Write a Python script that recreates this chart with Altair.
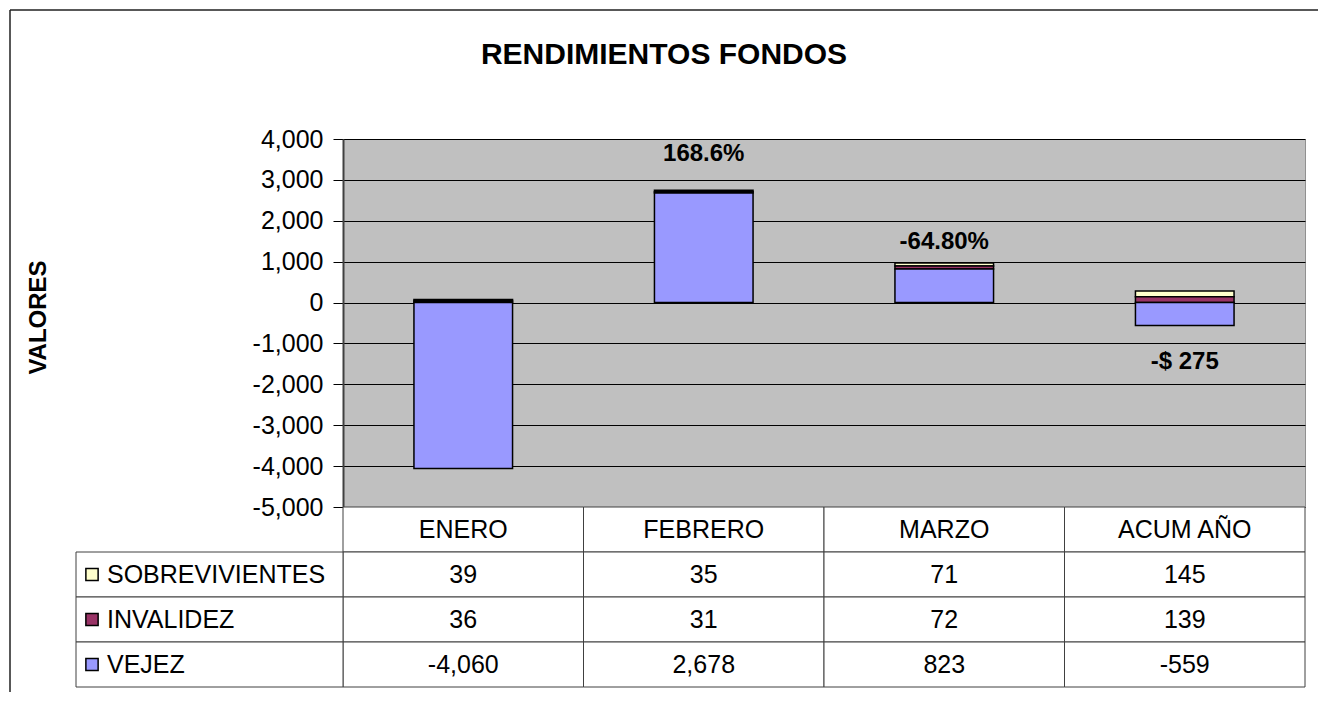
import altair as alt
import pandas as pd

# ---------------- data ----------------
CATEGORIES = ["ENERO", "FEBRERO", "MARZO", "ACUM AÑO"]
SERIES = ["SOBREVIVIENTES", "INVALIDEZ", "VEJEZ"]
SOBREVIVIENTES = [39, 35, 71, 145]
INVALIDEZ = [36, 31, 72, 139]
VEJEZ = [-4060, 2678, 823, -559]
COLORS = ["#FFFFCC", "#993366", "#9999FF"]
STACK_ORDER = [2, 1, 0]  # VEJEZ nearest zero
Y_TICKS = [-5000, -4000, -3000, -2000, -1000, 0, 1000, 2000, 3000, 4000]
LABEL_CATS = ["FEBRERO", "MARZO", "ACUM AÑO"]
LABEL_TEXT = ["168.6%", "-64.80%", "-$ 275"]
LABEL_AT = [3630, 1480, -1450]
HEADER_ROW = "CATEGORIA"

FONT = "Liberation Sans"

values_by_series = {"SOBREVIVIENTES": SOBREVIVIENTES, "INVALIDEZ": INVALIDEZ, "VEJEZ": VEJEZ}

rows = []
for s, o in zip(SERIES, STACK_ORDER):
    for c, v in zip(CATEGORIES, values_by_series[s]):
        rows.append({"cat": c, "serie": s, "valor": v, "orden": o})
bars_df = pd.DataFrame(rows)

labels_df = pd.DataFrame({"cat": LABEL_CATS, "texto": LABEL_TEXT, "pos": LABEL_AT})

table_rows = []
for c in CATEGORIES:
    table_rows.append({"cat": c, "fila": HEADER_ROW, "texto": c})
    for s in SERIES:
        v = values_by_series[s][CATEGORIES.index(c)]
        table_rows.append({"cat": c, "fila": s, "texto": f"{v:,}"})
table_df = pd.DataFrame(table_rows)
legend_df = pd.DataFrame({"fila": SERIES})
frame_df = pd.DataFrame({"marco": [0]})

color_scale = alt.Scale(domain=SERIES, range=COLORS)
x_scale = alt.Scale(domain=CATEGORIES, paddingInner=0, paddingOuter=0)

W = 962

# ---------------- top chart ----------------
y_axis = alt.Axis(
    values=Y_TICKS,
    labelExpr="datum.value < 0 ? '-' + format(-datum.value, ',') : format(datum.value, ',')",
    labelFontSize=25, labelColor="black", labelPadding=10, labelFont=FONT,
    tickSize=10, tickColor="black", tickWidth=1,
    domainColor="#404040", domainWidth=2,
    grid=True, gridColor="black", gridWidth=1, gridOpacity=1,
    title="VALORES", titleFontSize=24, titleFontWeight="bold", titleFont=FONT,
    titleColor="black", titleX=-305, titleY=178, titleBaseline="middle", titleAngle=-90,
)

bars = alt.Chart(bars_df).mark_bar(
    stroke="black", strokeWidth=1.5, width=alt.RelativeBandSize(0.41)
).encode(
    x=alt.X("cat:N", scale=x_scale, sort=CATEGORIES, axis=None),
    y=alt.Y("valor:Q", scale=alt.Scale(domain=[-5000, 4000], nice=False, zero=False),
            axis=y_axis, stack="zero"),
    color=alt.Color("serie:N", scale=color_scale, legend=None),
    order=alt.Order("orden:Q", sort="ascending"),
)

labels = alt.Chart(labels_df).mark_text(
    fontSize=24, fontWeight="bold", font=FONT, color="black", baseline="middle"
).encode(
    x=alt.X("cat:N", scale=x_scale, sort=CATEGORIES, axis=None),
    y=alt.Y("pos:Q"),
    text="texto:N",
)

# chart-area frame (left and top edges of the outer border)
frame_left = alt.Chart(frame_df).mark_rule(color="#202020", strokeWidth=1.5).encode(
    x=alt.value(-333), y=alt.value(-129), y2=alt.value(553)
)
frame_top = alt.Chart(frame_df).mark_rule(color="#202020", strokeWidth=1.5).encode(
    x=alt.value(-333), x2=alt.value(975), y=alt.value(-129)
)

top = alt.layer(bars, labels, frame_left, frame_top).properties(
    width=W, height=368,
    view=alt.ViewBackground(fill="#C0C0C0", stroke="#909090", strokeWidth=1),
)

# ---------------- bottom table ----------------
row_scale = alt.Scale(domain=[HEADER_ROW] + SERIES, paddingInner=0, paddingOuter=0)

cells = alt.Chart(table_df).mark_rect(fill="white", stroke="#404040", strokeWidth=1).encode(
    x=alt.X("cat:N", scale=x_scale, sort=CATEGORIES, axis=None),
    y=alt.Y("fila:N", scale=row_scale, axis=None),
)
cell_text = alt.Chart(table_df).mark_text(fontSize=25, font=FONT, color="black").encode(
    x=alt.X("cat:N", scale=x_scale, sort=CATEGORIES, axis=None),
    y=alt.Y("fila:N", scale=row_scale, axis=None),
    text="texto:N",
)
legend_cells = alt.Chart(legend_df).mark_rect(fill="white", stroke="#404040", strokeWidth=1).encode(
    x=alt.value(-267), x2=alt.value(0),
    y=alt.Y("fila:N", scale=row_scale, axis=None),
)
legend_swatch = alt.Chart(legend_df).mark_point(
    shape="square", filled=True, size=150, stroke="black", strokeWidth=1.5, opacity=1
).encode(
    x=alt.value(-251),
    y=alt.Y("fila:N", scale=row_scale, axis=None),
    fill=alt.Fill("fila:N", scale=color_scale, legend=None),
)
legend_text = alt.Chart(legend_df).mark_text(
    fontSize=25, font=FONT, color="black", align="left"
).encode(
    x=alt.value(-236),
    y=alt.Y("fila:N", scale=row_scale, axis=None),
    text="fila:N",
)

bottom = alt.layer(cells, legend_cells, cell_text, legend_swatch, legend_text).properties(
    width=W, height=180,
    view=alt.ViewBackground(strokeOpacity=0),
)

chart = alt.vconcat(top, bottom, spacing=0, bounds="flush").resolve_scale(
    x="independent", y="independent"
).properties(
    title=alt.TitleParams(
        "RENDIMIENTOS FONDOS", fontSize=30, fontWeight="bold", font=FONT,
        color="black", anchor="middle", baseline="alphabetic", offset=-85,
    ),
    padding={"left": 0, "top": 0, "right": 0, "bottom": 0},
    background="white",
)

chart.save("out.html", embed_options={"renderer": "svg", "actions": False})
